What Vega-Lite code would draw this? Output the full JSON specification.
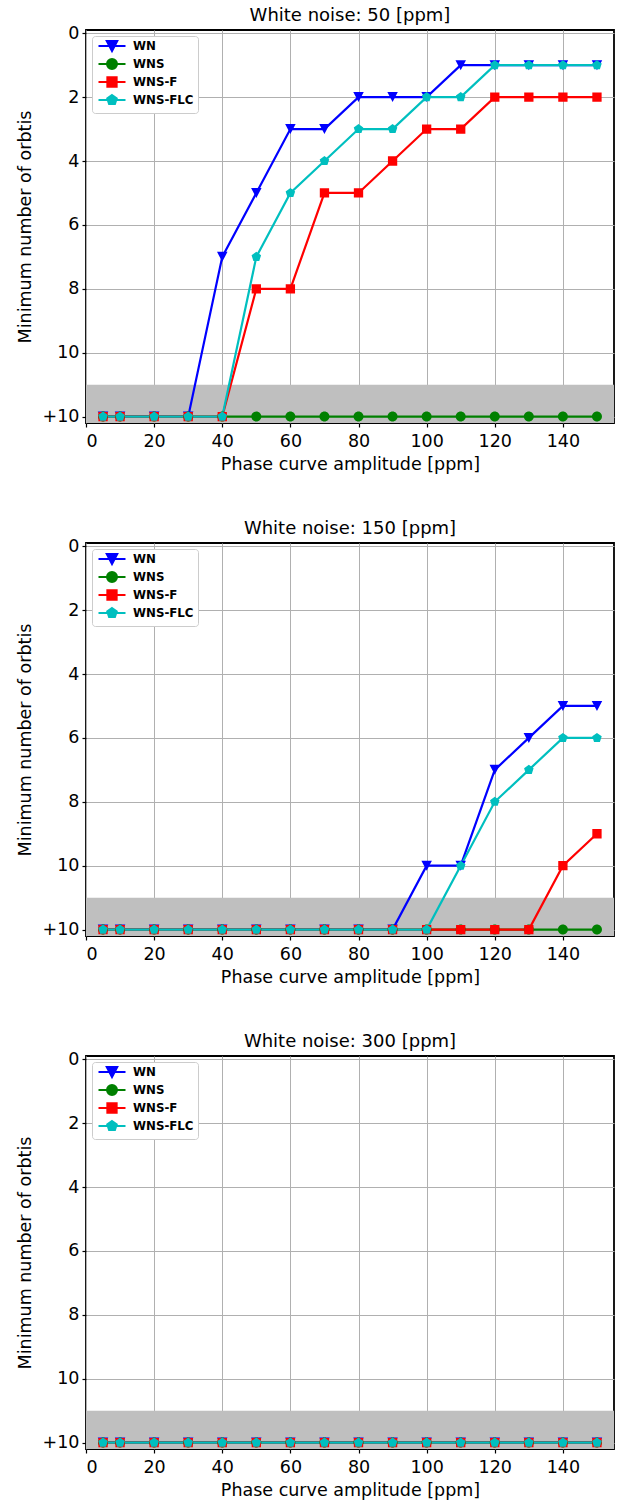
{
  "$schema": "https://vega.github.io/schema/vega-lite/v6.json",
  "padding": {"left": 15, "top": 6, "right": 0, "bottom": 0},
  "background": "white",
  "datasets": {
    "runs": [
      {"panel":50,"amp":5,"method":"WN","orbits":12},{"panel":50,"amp":10,"method":"WN","orbits":12},{"panel":50,"amp":20,"method":"WN","orbits":12},{"panel":50,"amp":30,"method":"WN","orbits":12},{"panel":50,"amp":40,"method":"WN","orbits":7},{"panel":50,"amp":50,"method":"WN","orbits":5},{"panel":50,"amp":60,"method":"WN","orbits":3},{"panel":50,"amp":70,"method":"WN","orbits":3},{"panel":50,"amp":80,"method":"WN","orbits":2},{"panel":50,"amp":90,"method":"WN","orbits":2},{"panel":50,"amp":100,"method":"WN","orbits":2},{"panel":50,"amp":110,"method":"WN","orbits":1},{"panel":50,"amp":120,"method":"WN","orbits":1},{"panel":50,"amp":130,"method":"WN","orbits":1},{"panel":50,"amp":140,"method":"WN","orbits":1},{"panel":50,"amp":150,"method":"WN","orbits":1},
      {"panel":50,"amp":5,"method":"WNS","orbits":12},{"panel":50,"amp":10,"method":"WNS","orbits":12},{"panel":50,"amp":20,"method":"WNS","orbits":12},{"panel":50,"amp":30,"method":"WNS","orbits":12},{"panel":50,"amp":40,"method":"WNS","orbits":12},{"panel":50,"amp":50,"method":"WNS","orbits":12},{"panel":50,"amp":60,"method":"WNS","orbits":12},{"panel":50,"amp":70,"method":"WNS","orbits":12},{"panel":50,"amp":80,"method":"WNS","orbits":12},{"panel":50,"amp":90,"method":"WNS","orbits":12},{"panel":50,"amp":100,"method":"WNS","orbits":12},{"panel":50,"amp":110,"method":"WNS","orbits":12},{"panel":50,"amp":120,"method":"WNS","orbits":12},{"panel":50,"amp":130,"method":"WNS","orbits":12},{"panel":50,"amp":140,"method":"WNS","orbits":12},{"panel":50,"amp":150,"method":"WNS","orbits":12},
      {"panel":50,"amp":5,"method":"WNS-F","orbits":12},{"panel":50,"amp":10,"method":"WNS-F","orbits":12},{"panel":50,"amp":20,"method":"WNS-F","orbits":12},{"panel":50,"amp":30,"method":"WNS-F","orbits":12},{"panel":50,"amp":40,"method":"WNS-F","orbits":12},{"panel":50,"amp":50,"method":"WNS-F","orbits":8},{"panel":50,"amp":60,"method":"WNS-F","orbits":8},{"panel":50,"amp":70,"method":"WNS-F","orbits":5},{"panel":50,"amp":80,"method":"WNS-F","orbits":5},{"panel":50,"amp":90,"method":"WNS-F","orbits":4},{"panel":50,"amp":100,"method":"WNS-F","orbits":3},{"panel":50,"amp":110,"method":"WNS-F","orbits":3},{"panel":50,"amp":120,"method":"WNS-F","orbits":2},{"panel":50,"amp":130,"method":"WNS-F","orbits":2},{"panel":50,"amp":140,"method":"WNS-F","orbits":2},{"panel":50,"amp":150,"method":"WNS-F","orbits":2},
      {"panel":50,"amp":5,"method":"WNS-FLC","orbits":12},{"panel":50,"amp":10,"method":"WNS-FLC","orbits":12},{"panel":50,"amp":20,"method":"WNS-FLC","orbits":12},{"panel":50,"amp":30,"method":"WNS-FLC","orbits":12},{"panel":50,"amp":40,"method":"WNS-FLC","orbits":12},{"panel":50,"amp":50,"method":"WNS-FLC","orbits":7},{"panel":50,"amp":60,"method":"WNS-FLC","orbits":5},{"panel":50,"amp":70,"method":"WNS-FLC","orbits":4},{"panel":50,"amp":80,"method":"WNS-FLC","orbits":3},{"panel":50,"amp":90,"method":"WNS-FLC","orbits":3},{"panel":50,"amp":100,"method":"WNS-FLC","orbits":2},{"panel":50,"amp":110,"method":"WNS-FLC","orbits":2},{"panel":50,"amp":120,"method":"WNS-FLC","orbits":1},{"panel":50,"amp":130,"method":"WNS-FLC","orbits":1},{"panel":50,"amp":140,"method":"WNS-FLC","orbits":1},{"panel":50,"amp":150,"method":"WNS-FLC","orbits":1},
      {"panel":150,"amp":5,"method":"WN","orbits":12},{"panel":150,"amp":10,"method":"WN","orbits":12},{"panel":150,"amp":20,"method":"WN","orbits":12},{"panel":150,"amp":30,"method":"WN","orbits":12},{"panel":150,"amp":40,"method":"WN","orbits":12},{"panel":150,"amp":50,"method":"WN","orbits":12},{"panel":150,"amp":60,"method":"WN","orbits":12},{"panel":150,"amp":70,"method":"WN","orbits":12},{"panel":150,"amp":80,"method":"WN","orbits":12},{"panel":150,"amp":90,"method":"WN","orbits":12},{"panel":150,"amp":100,"method":"WN","orbits":10},{"panel":150,"amp":110,"method":"WN","orbits":10},{"panel":150,"amp":120,"method":"WN","orbits":7},{"panel":150,"amp":130,"method":"WN","orbits":6},{"panel":150,"amp":140,"method":"WN","orbits":5},{"panel":150,"amp":150,"method":"WN","orbits":5},
      {"panel":150,"amp":5,"method":"WNS","orbits":12},{"panel":150,"amp":10,"method":"WNS","orbits":12},{"panel":150,"amp":20,"method":"WNS","orbits":12},{"panel":150,"amp":30,"method":"WNS","orbits":12},{"panel":150,"amp":40,"method":"WNS","orbits":12},{"panel":150,"amp":50,"method":"WNS","orbits":12},{"panel":150,"amp":60,"method":"WNS","orbits":12},{"panel":150,"amp":70,"method":"WNS","orbits":12},{"panel":150,"amp":80,"method":"WNS","orbits":12},{"panel":150,"amp":90,"method":"WNS","orbits":12},{"panel":150,"amp":100,"method":"WNS","orbits":12},{"panel":150,"amp":110,"method":"WNS","orbits":12},{"panel":150,"amp":120,"method":"WNS","orbits":12},{"panel":150,"amp":130,"method":"WNS","orbits":12},{"panel":150,"amp":140,"method":"WNS","orbits":12},{"panel":150,"amp":150,"method":"WNS","orbits":12},
      {"panel":150,"amp":5,"method":"WNS-F","orbits":12},{"panel":150,"amp":10,"method":"WNS-F","orbits":12},{"panel":150,"amp":20,"method":"WNS-F","orbits":12},{"panel":150,"amp":30,"method":"WNS-F","orbits":12},{"panel":150,"amp":40,"method":"WNS-F","orbits":12},{"panel":150,"amp":50,"method":"WNS-F","orbits":12},{"panel":150,"amp":60,"method":"WNS-F","orbits":12},{"panel":150,"amp":70,"method":"WNS-F","orbits":12},{"panel":150,"amp":80,"method":"WNS-F","orbits":12},{"panel":150,"amp":90,"method":"WNS-F","orbits":12},{"panel":150,"amp":100,"method":"WNS-F","orbits":12},{"panel":150,"amp":110,"method":"WNS-F","orbits":12},{"panel":150,"amp":120,"method":"WNS-F","orbits":12},{"panel":150,"amp":130,"method":"WNS-F","orbits":12},{"panel":150,"amp":140,"method":"WNS-F","orbits":10},{"panel":150,"amp":150,"method":"WNS-F","orbits":9},
      {"panel":150,"amp":5,"method":"WNS-FLC","orbits":12},{"panel":150,"amp":10,"method":"WNS-FLC","orbits":12},{"panel":150,"amp":20,"method":"WNS-FLC","orbits":12},{"panel":150,"amp":30,"method":"WNS-FLC","orbits":12},{"panel":150,"amp":40,"method":"WNS-FLC","orbits":12},{"panel":150,"amp":50,"method":"WNS-FLC","orbits":12},{"panel":150,"amp":60,"method":"WNS-FLC","orbits":12},{"panel":150,"amp":70,"method":"WNS-FLC","orbits":12},{"panel":150,"amp":80,"method":"WNS-FLC","orbits":12},{"panel":150,"amp":90,"method":"WNS-FLC","orbits":12},{"panel":150,"amp":100,"method":"WNS-FLC","orbits":12},{"panel":150,"amp":110,"method":"WNS-FLC","orbits":10},{"panel":150,"amp":120,"method":"WNS-FLC","orbits":8},{"panel":150,"amp":130,"method":"WNS-FLC","orbits":7},{"panel":150,"amp":140,"method":"WNS-FLC","orbits":6},{"panel":150,"amp":150,"method":"WNS-FLC","orbits":6},
      {"panel":300,"amp":5,"method":"WN","orbits":12},{"panel":300,"amp":10,"method":"WN","orbits":12},{"panel":300,"amp":20,"method":"WN","orbits":12},{"panel":300,"amp":30,"method":"WN","orbits":12},{"panel":300,"amp":40,"method":"WN","orbits":12},{"panel":300,"amp":50,"method":"WN","orbits":12},{"panel":300,"amp":60,"method":"WN","orbits":12},{"panel":300,"amp":70,"method":"WN","orbits":12},{"panel":300,"amp":80,"method":"WN","orbits":12},{"panel":300,"amp":90,"method":"WN","orbits":12},{"panel":300,"amp":100,"method":"WN","orbits":12},{"panel":300,"amp":110,"method":"WN","orbits":12},{"panel":300,"amp":120,"method":"WN","orbits":12},{"panel":300,"amp":130,"method":"WN","orbits":12},{"panel":300,"amp":140,"method":"WN","orbits":12},{"panel":300,"amp":150,"method":"WN","orbits":12},
      {"panel":300,"amp":5,"method":"WNS","orbits":12},{"panel":300,"amp":10,"method":"WNS","orbits":12},{"panel":300,"amp":20,"method":"WNS","orbits":12},{"panel":300,"amp":30,"method":"WNS","orbits":12},{"panel":300,"amp":40,"method":"WNS","orbits":12},{"panel":300,"amp":50,"method":"WNS","orbits":12},{"panel":300,"amp":60,"method":"WNS","orbits":12},{"panel":300,"amp":70,"method":"WNS","orbits":12},{"panel":300,"amp":80,"method":"WNS","orbits":12},{"panel":300,"amp":90,"method":"WNS","orbits":12},{"panel":300,"amp":100,"method":"WNS","orbits":12},{"panel":300,"amp":110,"method":"WNS","orbits":12},{"panel":300,"amp":120,"method":"WNS","orbits":12},{"panel":300,"amp":130,"method":"WNS","orbits":12},{"panel":300,"amp":140,"method":"WNS","orbits":12},{"panel":300,"amp":150,"method":"WNS","orbits":12},
      {"panel":300,"amp":5,"method":"WNS-F","orbits":12},{"panel":300,"amp":10,"method":"WNS-F","orbits":12},{"panel":300,"amp":20,"method":"WNS-F","orbits":12},{"panel":300,"amp":30,"method":"WNS-F","orbits":12},{"panel":300,"amp":40,"method":"WNS-F","orbits":12},{"panel":300,"amp":50,"method":"WNS-F","orbits":12},{"panel":300,"amp":60,"method":"WNS-F","orbits":12},{"panel":300,"amp":70,"method":"WNS-F","orbits":12},{"panel":300,"amp":80,"method":"WNS-F","orbits":12},{"panel":300,"amp":90,"method":"WNS-F","orbits":12},{"panel":300,"amp":100,"method":"WNS-F","orbits":12},{"panel":300,"amp":110,"method":"WNS-F","orbits":12},{"panel":300,"amp":120,"method":"WNS-F","orbits":12},{"panel":300,"amp":130,"method":"WNS-F","orbits":12},{"panel":300,"amp":140,"method":"WNS-F","orbits":12},{"panel":300,"amp":150,"method":"WNS-F","orbits":12},
      {"panel":300,"amp":5,"method":"WNS-FLC","orbits":12},{"panel":300,"amp":10,"method":"WNS-FLC","orbits":12},{"panel":300,"amp":20,"method":"WNS-FLC","orbits":12},{"panel":300,"amp":30,"method":"WNS-FLC","orbits":12},{"panel":300,"amp":40,"method":"WNS-FLC","orbits":12},{"panel":300,"amp":50,"method":"WNS-FLC","orbits":12},{"panel":300,"amp":60,"method":"WNS-FLC","orbits":12},{"panel":300,"amp":70,"method":"WNS-FLC","orbits":12},{"panel":300,"amp":80,"method":"WNS-FLC","orbits":12},{"panel":300,"amp":90,"method":"WNS-FLC","orbits":12},{"panel":300,"amp":100,"method":"WNS-FLC","orbits":12},{"panel":300,"amp":110,"method":"WNS-FLC","orbits":12},{"panel":300,"amp":120,"method":"WNS-FLC","orbits":12},{"panel":300,"amp":130,"method":"WNS-FLC","orbits":12},{"panel":300,"amp":140,"method":"WNS-FLC","orbits":12},{"panel":300,"amp":150,"method":"WNS-FLC","orbits":12}
    ],
    "band": [{"lo": 11, "hi": 12.2}]
  },
  "config": {
    "font": "DejaVu Sans",
    "view": {"stroke": "black", "strokeWidth": 1.8},
    "axis": {
      "labelFont": "DejaVu Sans", "labelFontSize": 17.5, "labelColor": "black",
      "titleFont": "DejaVu Sans", "titleFontSize": 17.5, "titleFontWeight": "normal", "titleColor": "black",
      "grid": true, "gridColor": "#b0b0b0", "gridWidth": 1, "gridOpacity": 1,
      "tickColor": "black", "tickSize": 4, "tickWidth": 1.2,
      "domain": false, "labelPadding": 3
    },
    "axisX": {"labelPadding": 5, "titlePadding": 6},
    "title": {"font": "DejaVu Sans", "fontSize": 18, "fontWeight": "normal", "color": "black", "frame": "group"},
    "legend": {
      "orient": "top-left", "offset": 6, "padding": 4,
      "strokeColor": "#cccccc", "fillColor": "white", "cornerRadius": 3,
      "labelFont": "DejaVu Sans", "labelFontWeight": "bold", "labelFontSize": 11.8, "labelColor": "black",
      "symbolSize": 100, "symbolStrokeWidth": 2, "rowPadding": 0, "symbolOffset": 10, "labelOffset": 15
    }
  },
  "spacing": 45,
  "resolve": {"scale": {"color": "independent", "shape": "independent"}, "legend": {"color": "independent", "shape": "independent"}},
  "vconcat": [
    {
      "width": 528, "height": 393,
      "title": {"text": "White noise: 50 [ppm]", "offset": -1},
      "layer": [
        {"data": {"name": "band"}, "mark": {"type": "rect", "color": "#bfbfbf"},
         "encoding": {"x": {"datum": 0, "type": "quantitative"}, "x2": {"datum": 155}, "y": {"field": "lo", "type": "quantitative"}, "y2": {"field": "hi"}}},
        {"data": {"name": "runs"}, "transform": [{"filter": "datum.panel == 50"}], "mark": {"type": "line", "strokeWidth": 2.2},
         "encoding": {"x": {"field": "amp", "type": "quantitative"}, "y": {"field": "orbits", "type": "quantitative"}, "color": {"field": "method", "type": "nominal"}}},
        {"data": {"name": "runs"}, "transform": [{"filter": "datum.panel == 50"}], "mark": {"type": "point", "filled": true, "opacity": 1, "size": 100},
         "encoding": {"x": {"field": "amp", "type": "quantitative"}, "y": {"field": "orbits", "type": "quantitative"}, "color": {"field": "method", "type": "nominal"}, "shape": {"field": "method", "type": "nominal"}}}
      ],
      "encoding": {
        "x": {"type": "quantitative", "scale": {"domain": [0, 155], "nice": false}, "axis": {"title": "Phase curve amplitude [ppm]", "values": [0, 20, 40, 60, 80, 100, 120, 140], "grid": true}},
        "y": {"type": "quantitative", "scale": {"domain": [-0.1, 12.2], "reverse": true, "nice": false, "zero": false}, "axis": {"title": "Minimum number of orbtis", "values": [0, 2, 4, 6, 8, 10, 12], "labelExpr": "datum.value == 12 ? '+10' : datum.label", "titlePadding": 8, "grid": true}},
        "color": {"type": "nominal", "scale": {"domain": ["WN", "WNS", "WNS-F", "WNS-FLC"], "range": ["#0000ff", "#008000", "#ff0000", "#00bfbf"]}, "legend": {"title": null}},
        "shape": {"type": "nominal", "scale": {"domain": ["WN", "WNS", "WNS-F", "WNS-FLC"], "range": ["M-1.05,-1L1.05,-1L0,1Z M-2.7,0H2.7", "M1,0A1,1,0,1,1,-1,0A1,1,0,1,1,1,0Z M-2.7,0H2.7", "M-0.93,-0.93H0.93V0.93H-0.93Z M-2.7,0H2.7", "M0,-1L0.951,-0.309L0.588,0.809L-0.588,0.809L-0.951,-0.309Z M-2.7,0H2.7"]}, "legend": {"title": null}}
      }
    },
    {
      "width": 528, "height": 393,
      "title": {"text": "White noise: 150 [ppm]", "offset": -1},
      "layer": [
        {"data": {"name": "band"}, "mark": {"type": "rect", "color": "#bfbfbf"},
         "encoding": {"x": {"datum": 0, "type": "quantitative"}, "x2": {"datum": 155}, "y": {"field": "lo", "type": "quantitative"}, "y2": {"field": "hi"}}},
        {"data": {"name": "runs"}, "transform": [{"filter": "datum.panel == 150"}], "mark": {"type": "line", "strokeWidth": 2.2},
         "encoding": {"x": {"field": "amp", "type": "quantitative"}, "y": {"field": "orbits", "type": "quantitative"}, "color": {"field": "method", "type": "nominal"}}},
        {"data": {"name": "runs"}, "transform": [{"filter": "datum.panel == 150"}], "mark": {"type": "point", "filled": true, "opacity": 1, "size": 100},
         "encoding": {"x": {"field": "amp", "type": "quantitative"}, "y": {"field": "orbits", "type": "quantitative"}, "color": {"field": "method", "type": "nominal"}, "shape": {"field": "method", "type": "nominal"}}}
      ],
      "encoding": {
        "x": {"type": "quantitative", "scale": {"domain": [0, 155], "nice": false}, "axis": {"title": "Phase curve amplitude [ppm]", "values": [0, 20, 40, 60, 80, 100, 120, 140], "grid": true}},
        "y": {"type": "quantitative", "scale": {"domain": [-0.1, 12.2], "reverse": true, "nice": false, "zero": false}, "axis": {"title": "Minimum number of orbtis", "values": [0, 2, 4, 6, 8, 10, 12], "labelExpr": "datum.value == 12 ? '+10' : datum.label", "titlePadding": 8, "grid": true}},
        "color": {"type": "nominal", "scale": {"domain": ["WN", "WNS", "WNS-F", "WNS-FLC"], "range": ["#0000ff", "#008000", "#ff0000", "#00bfbf"]}, "legend": {"title": null}},
        "shape": {"type": "nominal", "scale": {"domain": ["WN", "WNS", "WNS-F", "WNS-FLC"], "range": ["M-1.05,-1L1.05,-1L0,1Z M-2.7,0H2.7", "M1,0A1,1,0,1,1,-1,0A1,1,0,1,1,1,0Z M-2.7,0H2.7", "M-0.93,-0.93H0.93V0.93H-0.93Z M-2.7,0H2.7", "M0,-1L0.951,-0.309L0.588,0.809L-0.588,0.809L-0.951,-0.309Z M-2.7,0H2.7"]}, "legend": {"title": null}}
      }
    },
    {
      "width": 528, "height": 393,
      "title": {"text": "White noise: 300 [ppm]", "offset": -1},
      "layer": [
        {"data": {"name": "band"}, "mark": {"type": "rect", "color": "#bfbfbf"},
         "encoding": {"x": {"datum": 0, "type": "quantitative"}, "x2": {"datum": 155}, "y": {"field": "lo", "type": "quantitative"}, "y2": {"field": "hi"}}},
        {"data": {"name": "runs"}, "transform": [{"filter": "datum.panel == 300"}], "mark": {"type": "line", "strokeWidth": 2.2},
         "encoding": {"x": {"field": "amp", "type": "quantitative"}, "y": {"field": "orbits", "type": "quantitative"}, "color": {"field": "method", "type": "nominal"}}},
        {"data": {"name": "runs"}, "transform": [{"filter": "datum.panel == 300"}], "mark": {"type": "point", "filled": true, "opacity": 1, "size": 100},
         "encoding": {"x": {"field": "amp", "type": "quantitative"}, "y": {"field": "orbits", "type": "quantitative"}, "color": {"field": "method", "type": "nominal"}, "shape": {"field": "method", "type": "nominal"}}}
      ],
      "encoding": {
        "x": {"type": "quantitative", "scale": {"domain": [0, 155], "nice": false}, "axis": {"title": "Phase curve amplitude [ppm]", "values": [0, 20, 40, 60, 80, 100, 120, 140], "grid": true}},
        "y": {"type": "quantitative", "scale": {"domain": [-0.1, 12.2], "reverse": true, "nice": false, "zero": false}, "axis": {"title": "Minimum number of orbtis", "values": [0, 2, 4, 6, 8, 10, 12], "labelExpr": "datum.value == 12 ? '+10' : datum.label", "titlePadding": 8, "grid": true}},
        "color": {"type": "nominal", "scale": {"domain": ["WN", "WNS", "WNS-F", "WNS-FLC"], "range": ["#0000ff", "#008000", "#ff0000", "#00bfbf"]}, "legend": {"title": null}},
        "shape": {"type": "nominal", "scale": {"domain": ["WN", "WNS", "WNS-F", "WNS-FLC"], "range": ["M-1.05,-1L1.05,-1L0,1Z M-2.7,0H2.7", "M1,0A1,1,0,1,1,-1,0A1,1,0,1,1,1,0Z M-2.7,0H2.7", "M-0.93,-0.93H0.93V0.93H-0.93Z M-2.7,0H2.7", "M0,-1L0.951,-0.309L0.588,0.809L-0.588,0.809L-0.951,-0.309Z M-2.7,0H2.7"]}, "legend": {"title": null}}
      }
    }
  ]
}
